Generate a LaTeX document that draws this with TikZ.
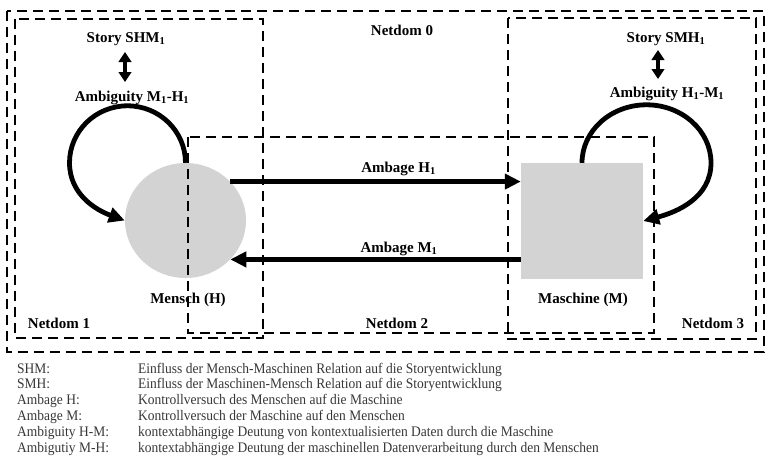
\documentclass[tikz,border=0pt]{standalone}
\usepackage{fontspec}
\setmainfont{Liberation Serif}
\usetikzlibrary{arrows.meta,shapes.geometric}

\definecolor{shapefill}{RGB}{211,211,211}
\definecolor{legendtext}{RGB}{55,55,55}

\tikzset{
  netbox/.style={line width=2.7pt, dash pattern=on 10pt off 6pt},
  lbl/.style={font=\bfseries\fontsize{15}{18}\selectfont, inner sep=0pt, anchor=base},
  legendrow/.style={font=\fontsize{13.5}{16}\selectfont, text=legendtext, inner sep=0pt, anchor=base west},
  flowarrow/.style={line width=4.8pt, -{Triangle[length=16pt,width=15pt]}},
  storyarrow/.style={line width=3.6pt, {Triangle[length=10pt,width=12.5pt]}-{Triangle[length=10pt,width=12.5pt]}},
}
\newcommand{\tallrow}[1]{\scalebox{1}[1.08]{#1}}

\begin{document}
\begin{tikzpicture}[x=1pt,y=1pt]
\useasboundingbox (0,0) rectangle (767,-463);

% the two actors
\node[ellipse, fill=shapefill, minimum width=121pt, minimum height=115pt, inner sep=0pt] (mensch) at (185.5,-220.5) {};
\node[rectangle, fill=shapefill, minimum width=122pt, minimum height=116pt, inner sep=0pt] (maschine) at (582,-221) {};

% network domains
\draw[netbox] (7,-11) rectangle (764,-352);
\draw[netbox] (15,-19) rectangle (263,-338);
\draw[netbox] (188,-137) rectangle (654,-333);
\draw[netbox] (508,-18) rectangle (756,-339);

% domain labels
\node[lbl] (nd0) at (402,-35) {Netdom 0};
\node[lbl] (nd1) at (59,-328) {Netdom 1};
\node[lbl] (nd2) at (397,-328) {Netdom 2};
\node[lbl] (nd3) at (713,-328) {Netdom 3};

% actor labels
\node[lbl] (lmensch) at (188,-303) {Mensch (H)};
\node[lbl] (lmaschine) at (583,-303) {Maschine (M)};

% story and ambiguity labels
\node[lbl] (storyL) at (126,-42) {Story SHM\textsubscript{1}};
\node[lbl] (ambL) at (132,-101) {Ambiguity M\textsubscript{1}-H\textsubscript{1}};
\node[lbl] (storyR) at (666,-42) {Story SMH\textsubscript{1}};
\node[lbl] (ambR) at (667,-97) {Ambiguity H\textsubscript{1}-M\textsubscript{1}};

\coordinate (sLtop) at (125,-52);
\coordinate (sLbot) at (125,-82);
\coordinate (sRtop) at (658,-50);
\coordinate (sRbot) at (658,-79);
\draw[storyarrow] (sLtop) -- (sLbot);
\draw[storyarrow] (sRtop) -- (sRbot);

% ambage arrows between the actors
\draw[flowarrow] (mensch.41.9) -- (maschine.west |- mensch.41.9);
\draw[flowarrow] (maschine.west |- mensch.-41.9) -- (mensch.-41.9);
\node[lbl] (ambH) at (398.5,-172) {Ambage H\textsubscript{1}};
\node[lbl] (ambM) at (399,-252) {Ambage M\textsubscript{1}};

% self loops
\draw[flowarrow] (mensch.north) arc[start angle=0, end angle=180, x radius=58, y radius=57]
  to[out=-90, in=160] (mensch.west);
\draw[flowarrow] (maschine.north) arc[start angle=180, end angle=0, x radius=64.5, y radius=58]
  to[out=-90, in=15] (maschine.east);

% legend
\foreach \k/\d [count=\i from 0] in {
  SHM:/Einfluss der Mensch-Maschinen Relation auf die Storyentwicklung,
  SMH:/Einfluss der Maschinen-Mensch Relation auf die Storyentwicklung,
  Ambage H:/Kontrollversuch des Menschen auf die Maschine,
  Ambage M:/Kontrollversuch der Maschine auf den Menschen,
  Ambiguity H-M:/kontextabhängige Deutung von kontextualisierten Daten durch die Maschine,
  Ambigutiy M-H:/kontextabhängige Deutung der maschinellen Datenverarbeitung durch den Menschen}
{
  \node[legendrow] (key\i) at (17,{-373-15.8*\i}) {\tallrow{\k}};
  \node[legendrow] (desc\i) at (138,{-373-15.8*\i}) {\tallrow{\d}};
}
\end{tikzpicture}
\end{document}
